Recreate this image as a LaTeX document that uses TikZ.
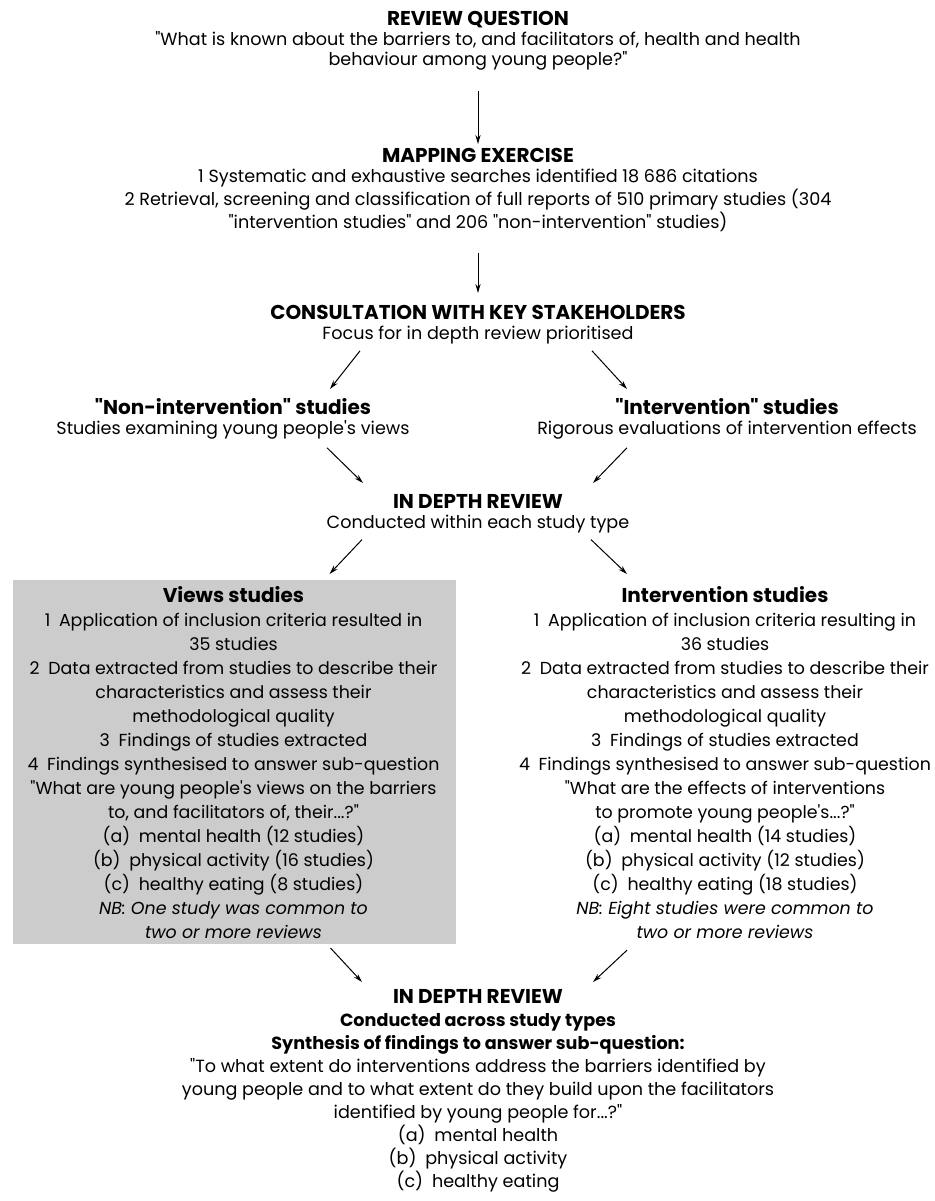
\documentclass[tikz,border=0pt]{standalone}
\usepackage{fontspec}
\setmainfont{Poppins}[Ligatures=TeXOff]
\usepackage{xcolor}
\usetikzlibrary{arrows.meta,positioning}
\definecolor{boxgray}{RGB}{204,204,204}
\newcommand{\headline}[1]{{\fontsize{10pt}{10pt}\selectfont\bfseries #1}}

\begin{document}
\begin{tikzpicture}[x=0.5pt, y=-0.5pt, >={Stealth[length=4.5pt,width=2.6pt]}, line width=0.5pt,
  txt/.style={align=center, inner sep=0pt, anchor=north, font=\fontsize{8.8pt}{10pt}\selectfont},
  box txt/.style={txt, font=\fontsize{8.7pt}{12pt}\selectfont},
  end txt/.style={txt, font=\fontsize{8.8pt}{11.5pt}\selectfont},
  shade box/.style={fill=boxgray, inner sep=0pt, anchor=north west, minimum width=221.5pt, minimum height=182pt}]
\useasboundingbox (0,0) rectangle (934,1201);
\begin{scope}
\node[txt] (question) at (478,11) {\headline{REVIEW QUESTION}\\
  "What is known about the barriers to, and facilitators of, health and health\\
  behaviour among young people?"};
\node[txt] (mapping) at (478,148) {\headline{MAPPING EXERCISE}\\
  1 Systematic and exhaustive searches identified 18 686 citations\\
  2 Retrieval, screening and classification of full reports of 510 primary studies (304\\
  "intervention studies" and 206 "non-intervention" studies)};
\node[txt] (consult) at (478,305) {\headline{CONSULTATION WITH KEY STAKEHOLDERS}\\
  Focus for in depth review prioritised};
\node[txt] (nonint) at (233,398) {\headline{"Non-intervention" studies}\\
  Studies examining young people's views};
\node[txt] (interv) at (727,398) {\headline{"Intervention" studies}\\
  Rigorous evaluations of intervention effects};
\node[txt] (within) at (478,494) {\headline{IN DEPTH REVIEW}\\
  Conducted within each study type};
\node[shade box] (vbox) at (12,579) {};
\node[box txt] (views) at (233.5,586) {\headline{Views studies}\\
  1\enspace Application of inclusion criteria resulted in\\
  35 studies\\
  2\enspace Data extracted from studies to describe their\\
  characteristics and assess their\\
  methodological quality\\
  3\enspace Findings of studies extracted\\
  4\enspace Findings synthesised to answer sub-question\\
  "What are young people's views on the barriers\\
  to, and facilitators of, their...?"\\
  (a)\enspace mental health (12 studies)\\
  (b)\enspace physical activity (16 studies)\\
  (c)\enspace healthy eating (8 studies)\\
  \textit{NB: One study was common to}\\
  \textit{two or more reviews}};
\node[box txt] (ivs) at (725,586) {\headline{Intervention studies}\\
  1\enspace Application of inclusion criteria resulting in\\
  36 studies\\
  2\enspace Data extracted from studies to describe their\\
  characteristics and assess their\\
  methodological quality\\
  3\enspace Findings of studies extracted\\
  4\enspace Findings synthesised to answer sub-question\\
  "What are the effects of interventions\\
  to promote young people's...?"\\
  (a)\enspace mental health (14 studies)\\
  (b)\enspace physical activity (12 studies)\\
  (c)\enspace healthy eating (18 studies)\\
  \textit{NB: Eight studies were common to}\\
  \textit{two or more reviews}};
\node[end txt] (across) at (478,989) {\headline{IN DEPTH REVIEW}\\
  \textbf{Conducted across study types}\\
  \textbf{Synthesis of findings to answer sub-question:}\\
  "To what extent do interventions address the barriers identified by\\
  young people and to what extent do they build upon the facilitators\\
  identified by young people for...?"\\
  (a)\enspace mental health\\
  (b)\enspace physical activity\\
  (c)\enspace healthy eating};
\end{scope}
\begin{scope}
\draw[->] ([shift={(0,20)}]question.south) -- ([shift={(0,-4)}]mapping.north);
\draw[->] ([shift={(0,20)}]mapping.south) -- ([shift={(0,-12)}]consult.north);
\draw[->] ([shift={(-118,6)}]consult.south) -- ([shift={(97,-9)}]nonint.north);
\draw[->] ([shift={(114,6)}]consult.south) -- ([shift={(-100,-9)}]interv.north);
\draw[->] ([shift={(94,8)}]nonint.south) -- ([shift={(-115,-11)}]within.north);
\draw[->] ([shift={(-100,8)}]interv.south) -- ([shift={(115,-11)}]within.north);
\draw[->] ([shift={(-116,6)}]within.south) -- ([shift={(95.5,-5)}]vbox.north);
\draw[->] ([shift={(113,6)}]within.south) -- ([shift={(-98,-12)}]ivs.north);
\draw[->] ([shift={(96.5,4)}]vbox.south) -- ([shift={(-116,-7)}]across.north);
\draw[->] ([shift={(-98,11)}]ivs.south) -- ([shift={(115,-7)}]across.north);
\end{scope}
\end{tikzpicture}
\end{document}
